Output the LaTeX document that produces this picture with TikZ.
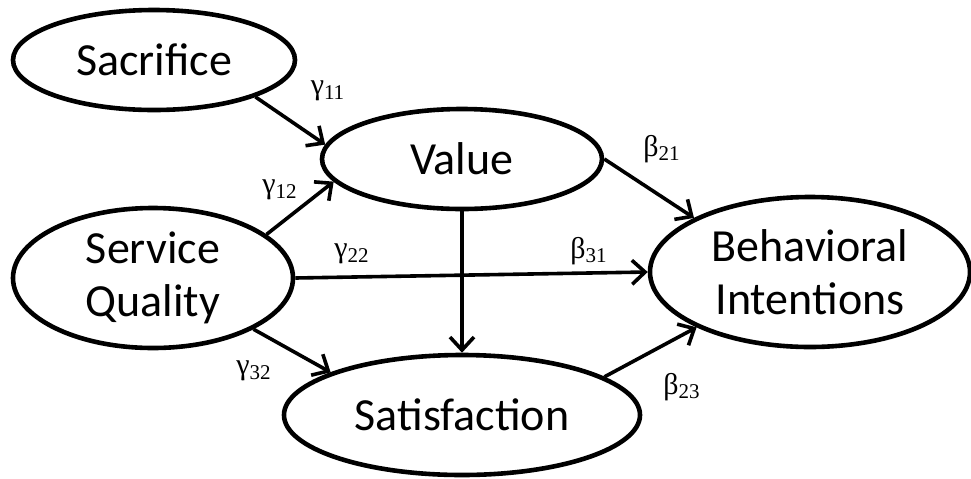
\documentclass[tikz,border=0pt]{standalone}
\usepackage{fontspec}
\setmainfont{Carlito}
\newfontfamily\greekfont{Liberation Serif}
\newcommand\pathlab[2]{{\greekfont\fontsize{15}{16}\selectfont #1\textsubscript{#2}}}
\usetikzlibrary{arrows.meta, shapes.geometric}

\begin{document}
\begin{tikzpicture}[
        x=0.5pt, y=-0.5pt,
        latent/.style={ellipse, draw, line width=2.3pt, inner sep=0pt, align=center,
                       font=\fontsize{23}{26.5}\selectfont},
        arr/.style={-{Straight Barb[length=6.5pt, width=12pt]}, line width=1.8pt},
        lab/.style={inner sep=0pt},
    ]
        \useasboundingbox (0,0) rectangle (971,478);
        \node[latent, minimum width=141pt, minimum height=50pt] (sac) at (154,60)  {Sacrifice};
        \node[latent, minimum width=140pt, minimum height=50pt] (val) at (462,159) {Value};
        \node[latent, minimum width=140pt, minimum height=70pt] (sq)  at (153,278) {Service\\Quality};
        \node[latent, minimum width=160pt, minimum height=75pt] (bi)  at (810,272) {Behavioral\\Intentions};
        \node[latent, minimum width=178pt, minimum height=60pt] (sat) at (462,415) {Satisfaction};
        \draw[arr] (sac.-20) -- (val.174);
        \draw[arr] (sq.21)   -- (val.-170);
        \draw[arr] (sq.east) -- (bi.west);
        \draw[arr] (sq.-27)  -- (sat.162);
        \draw[arr] (val.south) -- (sat.north);
        \draw[arr] (val.east) -- (bi.155);
        \draw[arr] (sat.15)  -- (bi.-154);
        \node[lab] (g11) at (328,91)  {\pathlab{γ}{11}};
        \node[lab] (g12) at (280,190) {\pathlab{γ}{12}};
        \node[lab] (g22) at (352,254) {\pathlab{γ}{22}};
        \node[lab] (g32) at (254,371) {\pathlab{γ}{32}};
        \node[lab] (b21) at (662,149) {\pathlab{β}{21}};
        \node[lab] (b31) at (589,251) {\pathlab{β}{31}};
        \node[lab] (b23) at (682,387) {\pathlab{β}{23}};
    \end{tikzpicture}
\end{document}
